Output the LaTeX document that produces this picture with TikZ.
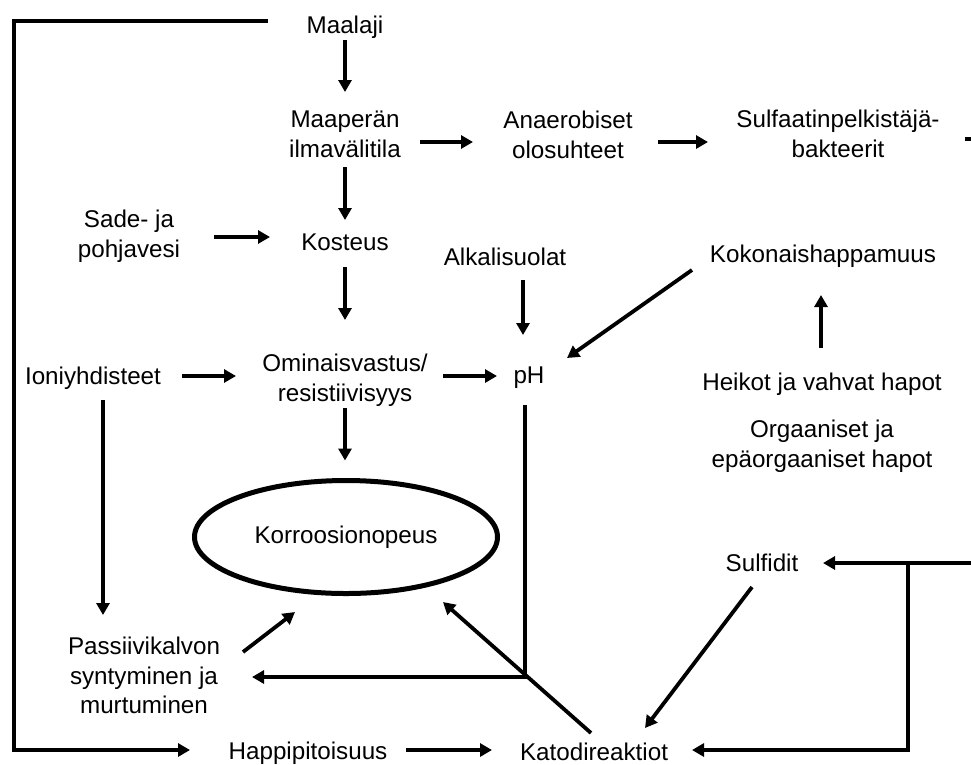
\documentclass[tikz,border=0pt]{standalone}
\usepackage{fontspec}
\setmainfont{Liberation Sans}
\usetikzlibrary{arrows.meta,calc,shapes.geometric}
\tikzset{
  lbl/.style={inner sep=0pt,outer sep=0pt,align=center,font=\fontsize{24.2}{29.5}\selectfont},
  arr/.style={line width=3.8pt,-{Triangle[length=12pt,width=13pt]}},
  ln/.style={line width=3.8pt},
  oval/.style={ellipse,draw,line width=5pt,minimum width=303pt,minimum height=113pt,inner sep=0pt}
}
\begin{document}
\begin{tikzpicture}[x=1pt,y=-1pt]
\useasboundingbox (0,0) rectangle (971,764);
\clip (0,0) rectangle (971,764);
% nodes
\node[lbl,anchor=base] (maalaji) at (345,33) {Maalaji};
\node[lbl,anchor=north] (maaperan) at (345,111) {Maaperän\\ilmavälitila};
\node[lbl,anchor=north] (anaer) at (568,111) {Anaerobiset\\olosuhteet};
\node[lbl,anchor=north] (sulf) at (838,110) {Sulfaatinpelkistäjä-\\bakteerit};
\node[lbl,anchor=north] (sade) at (129,210) {Sade- ja\\pohjavesi};
\node[lbl,anchor=base] (kosteus) at (345,250) {Kosteus};
\node[lbl,anchor=base] (alkali) at (505,265) {Alkalisuolat};
\node[lbl,anchor=base] (koko) at (823,262) {Kokonaishappamuus};
\node[lbl,anchor=base] (ioni) at (93,384) {Ioniyhdisteet};
\node[lbl,anchor=north] (omin) at (345,354) {Ominaisvastus/\\resistiivisyys};
\node[lbl,anchor=base] (ph) at (529,383) {pH};
\node[lbl,anchor=base] (heikot) at (822,390) {Heikot ja vahvat hapot};
\node[lbl,anchor=north] (orgaan) at (822,420) {Orgaaniset ja\\epäorgaaniset hapot};
\node[oval,lbl] (korr) at (346,537) {Korroosionopeus};
\node[lbl,anchor=base] (sulfidit) at (762,571) {Sulfidit};
\node[lbl,anchor=north] (passiiv) at (144,637) {Passiivikalvon\\syntyminen ja\\murtuminen};
\node[lbl,anchor=base] (happi) at (308,759) {Happipitoisuus};
\node[lbl,anchor=base] (katodi) at (594,760) {Katodireaktiot};
% helper coordinates
\coordinate (tlcorner) at (14,21);
\coordinate (blcorner) at (14,750);
\coordinate (redge) at (990,563);
\coordinate (branch) at (908,563);
\coordinate (sulfout) at (1000,139);
% connectors
\draw[arr] ($(maalaji.base)+(-77,-12)$) -- (tlcorner) -- (blcorner) -- ($(happi.base)+(-118,-9)$);
\draw[arr] ($(maalaji.base)+(0,7)$) -- ($(maaperan.north)+(0,-19)$);
\draw[arr] ($(maaperan.north)+(0,56)$) -- ($(kosteus.base)+(0,-30)$);
\draw[arr] ($(maaperan.north)+(75,31)$) -- ($(anaer.north)+(-95,31)$);
\draw[arr] ($(anaer.north)+(90,31)$) -- ($(sulf.north)+(-130,32)$);
\draw[arr] ($(sulf.north)+(127,29)$) -- (sulfout);
\draw[arr] ($(sade.north)+(85,27)$) -- ($(kosteus.base)+(-75,-13)$);
\draw[arr] ($(kosteus.base)+(0,17)$) -- ($(omin.north)+(0,-34)$);
\draw[arr] ($(ioni.base)+(89,-8)$) -- ($(omin.north)+(-109,22)$);
\draw[arr] ($(omin.north)+(98,22)$) -- ($(ph.base)+(-32,-7)$);
\draw[arr] ($(alkali.base)+(18,15)$) -- ($(ph.base)+(-6,-48)$);
\draw[arr] ($(koko.base)+(-131,8)$) -- ($(ph.base)+(38,-25)$);
\draw[arr] ($(heikot.base)+(-1,-42)$) -- ($(koko.base)+(-2,33)$);
\draw[arr] ($(omin.north)+(0,54)$) -- ($(korr.north)+(-1,-20)$);
\draw[arr] ($(ioni.base)+(10,16)$) -- ($(passiiv.north)+(-41,-22)$);
\draw[arr] ($(ph.base)+(-4,22)$) |- ($(passiiv.north)+(108,40)$);
\draw[arr] ($(passiiv.north)+(99,15)$) -- ($(korr.center)+(-51,75)$);
\draw[arr] ($(katodi.base)+(-3,-27)$) -- ($(korr.center)+(97,65)$);
\draw[arr] ($(sulfidit.base)+(-10,16)$) -- ($(katodi.base)+(51,-32)$);
\draw[arr] (redge) -- ($(sulfidit.base)+(61,-8)$);
\draw[arr] (branch) |- ($(katodi.base)+(98,-10)$);
\draw[arr] ($(happi.base)+(98,-9)$) -- ($(katodi.base)+(-102,-10)$);
\end{tikzpicture}
\end{document}
